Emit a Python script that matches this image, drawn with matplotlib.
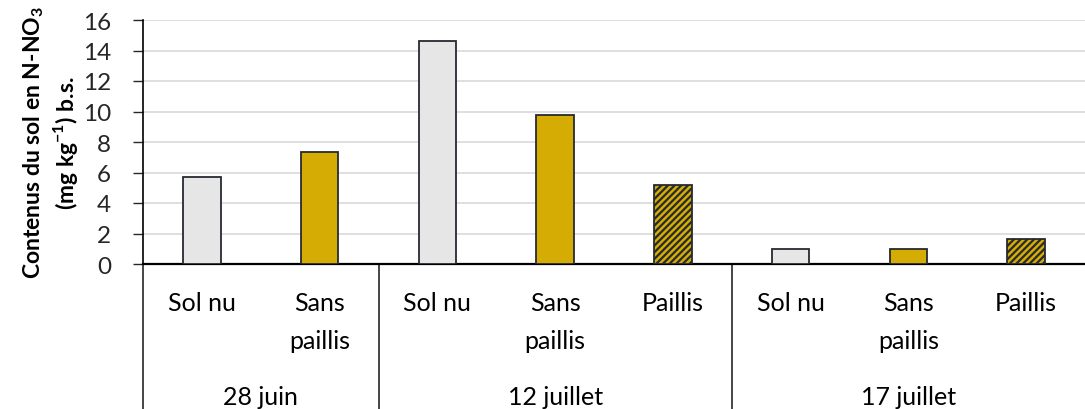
import numpy as np
import matplotlib
matplotlib.use('Agg')
from matplotlib import pyplot as plt

plt.rcParams['font.family'] = ['Lato', 'DejaVu Sans']
plt.rcParams['mathtext.fontset'] = 'custom'
plt.rcParams['mathtext.rm'] = 'Lato'
plt.rcParams['mathtext.bf'] = 'Lato:bold'
plt.rcParams['hatch.linewidth'] = 1.6

# data
dates = ['28 juin', '12 juillet', '17 juillet']
treatments = ['Sol nu', 'Sans\npaillis', 'Sol nu', 'Sans\npaillis', 'Paillis',
              'Sol nu', 'Sans\npaillis', 'Paillis']
group_sizes = [2, 3, 3]
values = [5.7, 7.35, 14.6, 9.8, 5.15, 0.98, 0.98, 1.62]
kinds = ['nu', 'sans', 'nu', 'sans', 'paillis', 'nu', 'sans', 'paillis']

fill = {'nu': '#E7E6E6', 'sans': '#D4AC04', 'paillis': '#D4AC04'}
hatch = {'nu': None, 'sans': None, 'paillis': '/////'}

fig = plt.figure(figsize=(10.85, 4.10), dpi=100)
ax = fig.add_axes([143 / 1085, 145 / 410, 1 - 143 / 1085, 244 / 410])

x = np.arange(len(values))
for xi, v, k in zip(x, values, kinds):
    ax.bar(xi, v, width=0.32, color=fill[k], edgecolor='#262a30',
           linewidth=1.3, hatch=hatch[k], zorder=3)

ax.set_xlim(-0.5, len(values) - 0.5)
ax.set_ylim(0, 16)
ax.set_yticks(np.arange(0, 17, 2))
ax.tick_params(axis='y', labelsize=17.5, length=7, width=1, direction='out',
               pad=16, colors='#262626')
ax.yaxis.grid(True, color='#D9D9D9', linewidth=1.2, zorder=0)
ax.set_xticks([])
for s in ['top', 'right']:
    ax.spines[s].set_visible(False)
ax.spines['left'].set_linewidth(1.2)
ax.spines['bottom'].set_linewidth(1.6)

ax.set_ylabel('Contenus du sol en N-NO$_\\mathbf{3}$\n(mg kg$^{\\mathbf{-1}}$) b.s.',
              fontsize=16.5, fontweight='bold', labelpad=2, linespacing=1.2)

tr = ax.get_xaxis_transform()
ybot = -145 / 244
# category labels
for xi, t in zip(x, treatments):
    ax.text(xi, -27 / 244, t, transform=tr, ha='center', va='top',
            fontsize=18, linespacing=1.8)
# group labels and separators
start = 0
bounds = [-0.5]
for d, n in zip(dates, group_sizes):
    ax.text(start + (n - 1) / 2, -121 / 244, d, transform=tr, ha='center',
            va='top', fontsize=18)
    start += n
    bounds.append(start - 0.5)
for b in bounds[:-1]:
    ax.plot([b, b], [0, ybot], transform=tr, color='#262626', lw=1.2,
            clip_on=False)

fig.savefig('out.png', dpi=100)
